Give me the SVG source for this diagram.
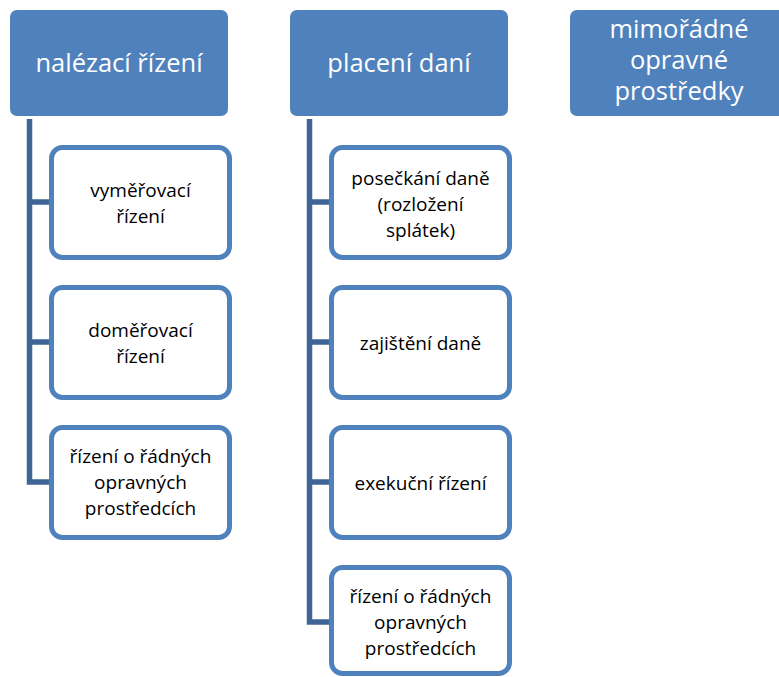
<svg xmlns="http://www.w3.org/2000/svg" width="779" height="677" viewBox="0 0 779 677">
<style>
.top{fill:#4F81BD}
.child{fill:#FFFFFF;stroke:#4F81BD;stroke-width:5}
.tt{font-family:"Open Sans","Noto Sans","Liberation Sans",sans-serif;font-weight:400;font-size:25.5px;fill:#FFFFFF;text-anchor:middle}
.ct{font-family:"Open Sans","Noto Sans","Liberation Sans",sans-serif;font-weight:400;font-size:19px;fill:#000000;text-anchor:middle}
.conn{fill:none;stroke:#3E6596;stroke-width:5.5}
</style>
<rect width="779" height="677" fill="#FFFFFF"/>
<g id="connectors">
<path class="conn" d="M29.5,119 V482 H49 M29.5,202 H49 M29.5,342 H49"/>
<path class="conn" d="M309.5,119 V622 H329 M309.5,202 H329 M309.5,342 H329 M309.5,482 H329"/>
</g>
<g id="n-nalezaci">
<rect class="top" x="10" y="10" width="218" height="106" rx="7"/>
<text class="tt" x="119" y="72">nalézací řízení</text>
</g>
<g id="n-placeni">
<rect class="top" x="290" y="10" width="218" height="106" rx="7"/>
<text class="tt" x="399" y="72">placení daní</text>
</g>
<g id="n-mimoradne">
<rect class="top" x="570" y="10" width="218" height="106" rx="7"/>
<text class="tt" x="679" y="38">mimořádné</text>
<text class="tt" x="679" y="69">opravné</text>
<text class="tt" x="679" y="100">prostředky</text>
</g>
<g id="n-vymerovaci">
<rect class="child" x="51.5" y="147.5" width="178" height="110" rx="11"/>
<text class="ct" x="140.5" y="197">vyměřovací</text>
<text class="ct" x="140.5" y="223">řízení</text>
</g>
<g id="n-domerovaci">
<rect class="child" x="51.5" y="287.5" width="178" height="110" rx="11"/>
<text class="ct" x="140.5" y="337">doměřovací</text>
<text class="ct" x="140.5" y="363">řízení</text>
</g>
<g id="n-radne1">
<rect class="child" x="51.5" y="427.5" width="178" height="110" rx="11"/>
<text class="ct" x="140.5" y="463">řízení o řádných</text>
<text class="ct" x="140.5" y="489">opravných</text>
<text class="ct" x="140.5" y="515">prostředcích</text>
</g>
<g id="n-poseckani">
<rect class="child" x="331.5" y="147.5" width="178" height="110" rx="11"/>
<text class="ct" x="420.5" y="185">posečkání daně</text>
<text class="ct" x="420.5" y="211">(rozložení</text>
<text class="ct" x="420.5" y="237">splátek)</text>
</g>
<g id="n-zajisteni">
<rect class="child" x="331.5" y="287.5" width="178" height="110" rx="11"/>
<text class="ct" x="420.5" y="350">zajištění daně</text>
</g>
<g id="n-exekucni">
<rect class="child" x="331.5" y="427.5" width="178" height="110" rx="11"/>
<text class="ct" x="420.5" y="490">exekuční řízení</text>
</g>
<g id="n-radne2">
<rect class="child" x="331.5" y="567.5" width="178" height="106" rx="11"/>
<text class="ct" x="420.5" y="603">řízení o řádných</text>
<text class="ct" x="420.5" y="629">opravných</text>
<text class="ct" x="420.5" y="655">prostředcích</text>
</g>
</svg>
